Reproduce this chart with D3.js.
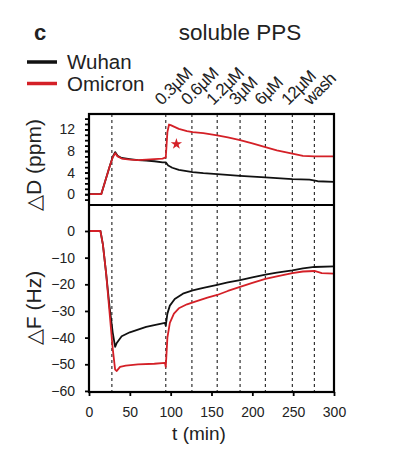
<!DOCTYPE html>
<html>
<head>
<meta charset="utf-8">
<script src="https://cdn.jsdelivr.net/npm/d3@7"></script>
<style>
  body { margin: 0; background: #fff; }
  text { font-family: "Liberation Sans", Arial, sans-serif; fill: #222; }
</style>
</head>
<body>
<svg id="chart" width="398" height="452"></svg>
<script>
// time (min) and values
var wuhanD = [[0,0],[15,0],[20,2.5],[25,5],[29,6.9],[32,7.8],[35,7.1],[40,6.7],[50,6.5],[60,6.3],[70,6.2],[80,6.1],[90,5.9],[94,5.9],[97,5.3],[102,4.9],[110,4.5],[127,4.1],[140,3.9],[157,3.7],[185,3.4],[216,3.1],[249,2.8],[270,2.7],[280,2.4],[300,2.3]];
var omicronD = [[0,0],[15,0],[20,2.5],[25,5],[29,6.8],[32,7.6],[35,7.0],[40,6.6],[50,6.4],[60,6.3],[70,6.4],[80,6.5],[90,6.6],[94,6.8],[96,11.5],[98,12.9],[100,12.8],[110,12.1],[120,11.7],[127,11.5],[140,11.3],[157,10.9],[170,10.5],[185,10.0],[200,9.4],[216,8.7],[230,8.1],[249,7.5],[262,7.1],[276,7.0],[290,7.0],[300,7.0]];
var wuhanF = [[0,0],[14,0],[17,-5],[21,-16],[25,-28],[29,-38],[32,-43.5],[34,-42],[40,-39.5],[50,-38],[60,-37],[70,-36],[80,-35.3],[93,-34.5],[94,-35.5],[96,-31],[99,-28],[105,-25.5],[115,-23.5],[127,-22.3],[140,-21.3],[157,-20.2],[170,-19.3],[185,-18.4],[200,-17.4],[216,-16.4],[230,-15.6],[249,-14.8],[262,-14],[276,-13.5],[300,-13.3]];
var omicronF = [[0,0],[14,0],[17,-5],[21,-16],[25,-30],[29,-44],[32,-52],[34,-52.5],[38,-51],[45,-50.5],[60,-50],[80,-49.8],[93,-49.5],[94,-51],[96,-40],[99,-34.5],[104,-31],[110,-29],[120,-27.5],[130,-26.5],[145,-25],[157,-24],[170,-22.5],[185,-21],[200,-19.5],[216,-18],[230,-17],[249,-15.8],[262,-15.2],[276,-15],[285,-15.8],[300,-16]];

var eventTimes = [28, 94, 126, 157, 185, 216, 249, 276];
var eventLabels = ["", "0.3\u00b5M", "0.6\u00b5M", "1.2\u00b5M", "3\u00b5M", "6\u00b5M", "12\u00b5M", "wash"];
var starPoint = [107, 9.3];

var xTicks = [0, 50, 100, 150, 200, 250, 300];
var dTicks = [0, 4, 8, 12];
var fTicks = [0, -10, -20, -30, -40, -50, -60];

var series = [
  {name: "Wuhan", color: "#111", d: wuhanD, f: wuhanF},
  {name: "Omicron", color: "#d42027", d: omicronD, f: omicronF}
];

var svg = d3.select("#chart");
var left = 89, right = 334;
var topY0 = 114, topY1 = 205, botY1 = 392;

var x = d3.scaleLinear().domain([0, 300]).range([left, right]);
var yD = d3.scaleLinear().domain([-2, 14.85]).range([topY1, topY0]);
var yF = d3.scaleLinear().domain([-60.4, 9.75]).range([botY1, topY1]);

// dashed event lines
svg.append("g").selectAll("line")
    .data(eventTimes)
    .enter().append("line")
    .attr("x1", function(d) { return x(d); })
    .attr("x2", function(d) { return x(d); })
    .attr("y1", topY0)
    .attr("y2", botY1)
    .attr("stroke", "#333")
    .attr("stroke-width", 1.2)
    .attr("stroke-dasharray", "3,3");

// event labels
svg.append("g").selectAll("text")
    .data(eventTimes.filter(function(d, i) { return eventLabels[i]; }))
    .enter().append("text")
    .attr("transform", function(d) { return "translate(" + (x(d) - 4) + "," + (topY0 - 8) + ")rotate(-45)"; })
    .attr("font-size", 17)
    .attr("letter-spacing", -0.6)
    .text(function(d) { return eventLabels[eventTimes.indexOf(d)]; });

// curves
var lineD = d3.line().x(function(d) { return x(d[0]); }).y(function(d) { return yD(d[1]); });
var lineF = d3.line().x(function(d) { return x(d[0]); }).y(function(d) { return yF(d[1]); });

series.forEach(function(s) {
  svg.append("path").datum(s.d)
      .attr("d", lineD)
      .attr("fill", "none")
      .attr("stroke", s.color)
      .attr("stroke-width", 1.8)
      .attr("stroke-linejoin", "round");
  svg.append("path").datum(s.f)
      .attr("d", lineF)
      .attr("fill", "none")
      .attr("stroke", s.color)
      .attr("stroke-width", 1.8)
      .attr("stroke-linejoin", "round");
});

// significance star
svg.append("path")
    .attr("d", d3.symbol().type(d3.symbolStar).size(40))
    .attr("transform", "translate(" + x(starPoint[0]) + "," + yD(starPoint[1]) + ")")
    .attr("fill", "#d42027");

// frames
svg.append("rect")
    .attr("x", left).attr("y", topY0)
    .attr("width", right - left).attr("height", botY1 - topY0)
    .attr("fill", "none").attr("stroke", "#000").attr("stroke-width", 2.2);
svg.append("line")
    .attr("x1", left).attr("x2", right)
    .attr("y1", topY1).attr("y2", topY1)
    .attr("stroke", "#000").attr("stroke-width", 2.2);

// axes
var axD = svg.append("g")
    .attr("transform", "translate(" + left + ",0)")
    .call(d3.axisLeft(yD).tickValues(d3.range(-1, 15, 1)).tickSize(4).tickFormat(""));
axD.select(".domain").remove();
axD.selectAll("line").attr("stroke-width", 1.8);
var axD2 = svg.append("g")
    .attr("transform", "translate(" + left + ",0)")
    .call(d3.axisLeft(yD).tickValues(dTicks).tickSize(4).tickPadding(10));
axD2.select(".domain").remove();
axD2.selectAll("line").attr("stroke-width", 1.8);

var axF = svg.append("g")
    .attr("transform", "translate(" + left + ",0)")
    .call(d3.axisLeft(yF).tickValues(fTicks).tickSize(4).tickPadding(10));
axF.select(".domain").remove();
axF.selectAll("line").attr("stroke-width", 1.8);

var axX = svg.append("g")
    .attr("transform", "translate(0," + botY1 + ")")
    .call(d3.axisBottom(x).tickValues(xTicks).tickSize(4).tickPadding(11));
axX.select(".domain").remove();
axX.selectAll("line").attr("stroke-width", 1.8);

svg.selectAll(".tick text").attr("font-size", 14).attr("font-family", "Liberation Sans, Arial, sans-serif").attr("fill", "#222");

// axis titles
svg.append("text")
    .attr("transform", "translate(41,165)rotate(-90)")
    .attr("text-anchor", "middle")
    .attr("font-size", 21)
    .text("\u25b3D (ppm)");
svg.append("text")
    .attr("transform", "translate(41,308)rotate(-90)")
    .attr("text-anchor", "middle")
    .attr("font-size", 21)
    .text("\u25b3F (Hz)");
svg.append("text")
    .attr("x", 199).attr("y", 440)
    .attr("text-anchor", "middle")
    .attr("font-size", 19)
    .text("t (min)");

// title, panel letter
svg.append("text")
    .attr("x", 240).attr("y", 40)
    .attr("text-anchor", "middle")
    .attr("font-size", 22.5)
    .text("soluble PPS");
svg.append("text")
    .attr("x", 34).attr("y", 40)
    .attr("font-size", 22)
    .attr("font-weight", "bold")
    .text("c");

// legend
var legend = svg.append("g").selectAll("g")
    .data(series)
    .enter().append("g")
    .attr("transform", function(d, i) { return "translate(27," + (62 + i * 21.5) + ")"; });
legend.append("line")
    .attr("x1", 0).attr("x2", 30)
    .attr("stroke", function(d) { return d.color; })
    .attr("stroke-width", 3.5);
legend.append("text")
    .attr("x", 40).attr("y", 7)
    .attr("font-size", 20.5)
    .text(function(d) { return d.name; });
</script>
</body>
</html>
